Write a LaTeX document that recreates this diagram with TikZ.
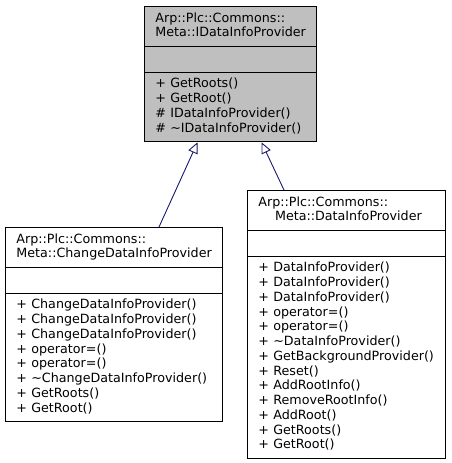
\documentclass[tikz,border=0pt]{standalone}
\usepackage{fontspec}
\setmainfont{DejaVu Sans}
\usetikzlibrary{shapes,shapes.multipart,arrows.meta}
\definecolor{gray75}{RGB}{191,191,191}
\definecolor{midnightblue}{RGB}{25,25,112}
\tikzset{
  cls_n/.style = {rectangle split, rectangle split parts=3, align=left, draw=black, line width=0.9pt,
    inner xsep=11pt, inner ysep=4.9pt, font=\fontsize{12.7}{14.76}\selectfont, text width=#1},
  cls_g/.style = {cls_n=#1, fill=gray75},
  inh_e/.style = {draw=midnightblue, line width=0.9pt, -{Triangle[open, length=11pt, width=10pt]}}
}

\begin{document}
\begin{tikzpicture}
	\useasboundingbox (0pt,0pt) rectangle (451pt,-463pt);
	\node [cls_g=150pt, anchor=north west] (idip) at (144pt,-6pt)
		{\strut Arp::Plc::Commons::\\Meta::IDataInfoProvider\strut
		\nodepart{two}\strut
		\nodepart{three}\strut + GetRoots()\\+ GetRoot()\\\# IDataInfoProvider()\\\# \textasciitilde IDataInfoProvider()\strut};
	\node [cls_n=195pt, anchor=north west] (cdip) at (5pt,-227pt)
		{\strut Arp::Plc::Commons::\\Meta::ChangeDataInfoProvider\strut
		\nodepart{two}\strut
		\nodepart{three}\strut + ChangeDataInfoProvider()\\+ ChangeDataInfoProvider()\\+ ChangeDataInfoProvider()\\
		+ operator=()\\+ operator=()\\+ \textasciitilde ChangeDataInfoProvider()\\+ GetRoots()\\+ GetRoot()\strut};
	\node [cls_n=176pt, anchor=north west] (dip) at (247pt,-190pt)
		{\strut Arp::Plc::Commons::\\\hspace*{16.6pt}Meta::DataInfoProvider\strut
		\nodepart{two}\strut
		\nodepart{three}\strut + DataInfoProvider()\\+ DataInfoProvider()\\+ DataInfoProvider()\\
		+ operator=()\\+ operator=()\\+ \textasciitilde DataInfoProvider()\\+ GetBackgroundProvider()\\
		+ Reset()\\+ AddRootInfo()\\+ RemoveRootInfo()\\+ AddRoot()\\+ GetRoots()\\+ GetRoot()\strut};
	% inheritance
	\draw [inh_e] ([xshift=154pt]cdip.north west) -- ([xshift=53.5pt]idip.south west);
	\draw [inh_e] ([xshift=37pt]dip.north west) -- ([xshift=117.5pt]idip.south west);
\end{tikzpicture}
\end{document}
